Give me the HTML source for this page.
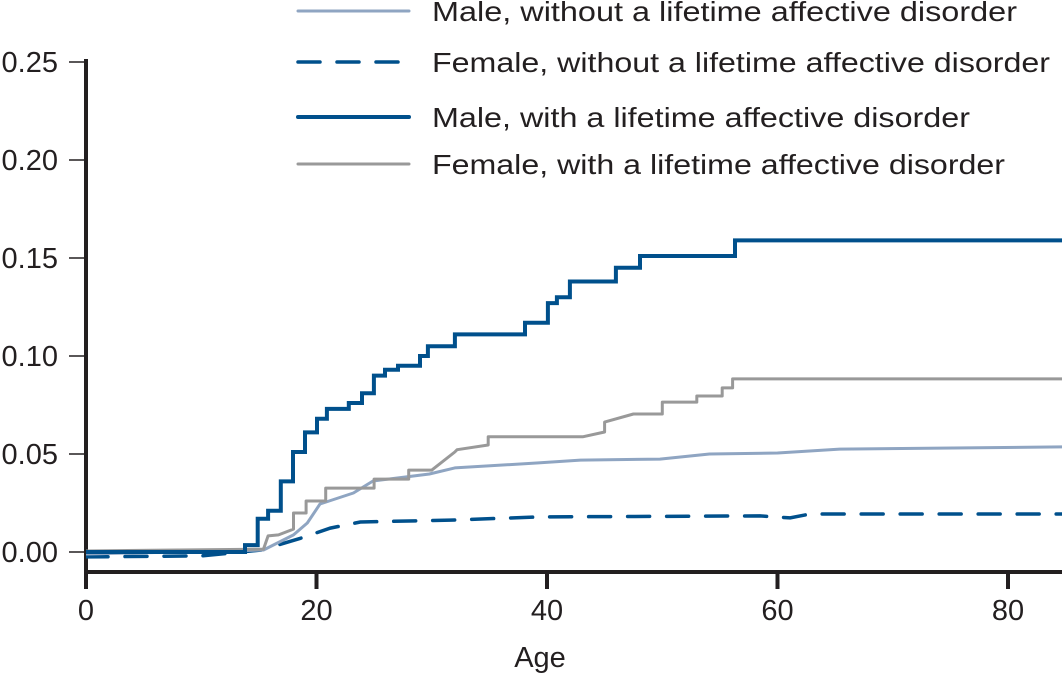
<!DOCTYPE html>
<html><head><meta charset="utf-8"><style>
html,body{margin:0;padding:0;background:#fff}
svg{display:block}
text{font-family:"Liberation Sans",sans-serif;fill:#231f20}
</style></head><body>
<svg id="chart" width="1062" height="676" viewBox="0 0 1062 676" xmlns="http://www.w3.org/2000/svg"></svg>
<script>
// ---- data ----
const xTicks = [0, 20, 40, 60, 80];
const yTicks = [0.00, 0.05, 0.10, 0.15, 0.20, 0.25];
const yTickLabels = ["0.00", "0.05", "0.10", "0.15", "0.20", "0.25"];
const legendLabels = ["Male, without a lifetime affective disorder","Female, without a lifetime affective disorder","Male, with a lifetime affective disorder","Female, with a lifetime affective disorder"];
// Male with disorder: step function (age of step, value after step)
const maleWithAges = [0, 13.8, 14.9, 15.8, 16.9, 17.962, 19.0, 20.04, 20.9, 22.8, 23.95, 24.98, 25.94, 27.07, 28.98, 29.67, 32.01, 38.09, 40.08, 40.86, 41.99, 45.98, 48.07, 56.31];
const maleWithVals = [0.0, 0.0035, 0.017, 0.021, 0.036, 0.051, 0.061, 0.068, 0.073, 0.076, 0.081, 0.090, 0.093, 0.095, 0.100, 0.105, 0.111, 0.117, 0.127, 0.130, 0.138, 0.145, 0.151, 0.159];
// Female with disorder: polyline points
const femWithAges = [0, 15.4, 15.8, 16.7, 18.0, 18.0, 19.1, 19.1, 20.8, 20.8, 25.0, 25.0, 28.0, 28.0, 30.0, 32.0, 32.2, 34.9, 34.9, 43.1, 45.0, 45.0, 47.5, 50.0, 50.0, 53.0, 53.0, 55.2, 55.2, 56.1, 56.1, 84.7];
const femWithVals = [0.0005, 0.0015, 0.0082, 0.0087, 0.0117, 0.0199, 0.0199, 0.0260, 0.0260, 0.0326, 0.0326, 0.0372, 0.0372, 0.0418, 0.0418, 0.0510, 0.0522, 0.0546, 0.0588, 0.0588, 0.0612, 0.0663, 0.0704, 0.0704, 0.0765, 0.0765, 0.0796, 0.0796, 0.0837, 0.0837, 0.0883, 0.0883];
// Male without disorder: smooth
const maleWithoutAges = [0, 15.4, 18.0, 19.2, 20.3, 23.2, 24.9, 27.8, 29.8, 32.0, 39.1, 42.9, 49.8, 54.1, 60.0, 65.4, 84.7];
const maleWithoutVals = [-0.001, 0.001, 0.0087, 0.0148, 0.0245, 0.0301, 0.0362, 0.0383, 0.0398, 0.0429, 0.0454, 0.0469, 0.0474, 0.0500, 0.0505, 0.0525, 0.0536];
// Female without disorder: dashed
const femWithoutAges = [0, 10.0, 15.2, 18.6, 21.2, 23.8, 31.6, 39.4, 58.5, 61.1, 62.8, 84.7];
const femWithoutVals = [-0.0025, -0.002, 0.001, 0.007, 0.0122, 0.0153, 0.0163, 0.0179, 0.0184, 0.0174, 0.0194, 0.0194];

// ---- scales ----
const X0 = 86, XPER = 11.525, Y0 = 552, YPER = 1960;
const xs = a => X0 + a * XPER;
const ys = v => Y0 - v * YPER;
const NS = "http://www.w3.org/2000/svg";
const svg = document.getElementById("chart");
function mk(tag, attrs, parent) {
  const e = document.createElementNS(NS, tag);
  for (const k in attrs) e.setAttribute(k, attrs[k]);
  (parent || svg).appendChild(e);
  return e;
}

// axes
const yAxis = mk("line", {x1: 86, y1: 59, x2: 86, y2: 574, stroke: "#231f20", "stroke-width": 4});


const xAxis = mk("line", {x1: 84, y1: 572, x2: 1062, y2: 572, stroke: "#231f20", "stroke-width": 4});



yTicks.forEach((v, i) => {
  const t = mk("line", {x1: 69, y1: ys(v), x2: 84, y2: ys(v), stroke: "#231f20", "stroke-width": 1.5});
  
  
  const l = mk("text", {x: 58, y: ys(v) + 10, "text-anchor": "end", "font-size": 29});
  l.textContent = yTickLabels[i];
  
  
});
xTicks.forEach(a => {
  const t = mk("line", {x1: xs(a), y1: 572, x2: xs(a), y2: 589, stroke: "#231f20", "stroke-width": 4});
  
  
  const l = mk("text", {x: xs(a), y: 620, "text-anchor": "middle", "font-size": 29});
  l.textContent = String(a);
  
  
});
const xt = mk("text", {x: 540, y: 667, "text-anchor": "middle", "font-size": 29});
xt.textContent = "Age";



function poly(ages, vals) {
  return ages.map((a, i) => (i ? "L" : "M") + xs(a).toFixed(1) + " " + ys(vals[i]).toFixed(1)).join(" ");
}
function stepPath(ages, vals, endAge) {
  let d = "M" + xs(ages[0]) + " " + ys(vals[0]);
  for (let i = 1; i < ages.length; i++) {
    d += " L" + xs(ages[i]).toFixed(1) + " " + ys(vals[i - 1]).toFixed(1);
    d += " L" + xs(ages[i]).toFixed(1) + " " + ys(vals[i]).toFixed(1);
  }
  d += " L" + xs(endAge).toFixed(1) + " " + ys(vals[vals.length - 1]).toFixed(1);
  return d;
}
const clip = mk("clipPath", {id: "plotclip"});
mk("rect", {x: 86, y: 0, width: 976, height: 570}, clip);
const g = mk("g", {"clip-path": "url(#plotclip)"});

const s4 = mk("path", {d: poly(femWithoutAges, femWithoutVals), fill: "none", stroke: "#00508c", "stroke-width": 3.5, "stroke-dasharray": "22 17", "stroke-linecap": "round"}, g);


const s3 = mk("path", {d: poly(maleWithoutAges, maleWithoutVals), fill: "none", stroke: "#8fa5c2", "stroke-width": 3, "stroke-linejoin": "round"}, g);


const s2 = mk("path", {d: poly(femWithAges, femWithVals), fill: "none", stroke: "#999999", "stroke-width": 3, "stroke-linejoin": "round"}, g);


const s1 = mk("path", {d: stepPath(maleWithAges, maleWithVals, 84.7), fill: "none", stroke: "#00508c", "stroke-width": 4}, g);



// legend
const legY = [11, 62, 117, 164];
const legStroke = ["#8fa5c2", "#00508c", "#00508c", "#999999"];
const legW = [3, 3.5, 4, 3];
const legDash = ["", "22 17", "", ""];
const legLen = [585, 618, 538, 573];
legendLabels.forEach((lab, i) => {
  const lg = mk("g", {});
  
  
  const ln = mk("line", {x1: 298, y1: legY[i], x2: 409, y2: legY[i], stroke: legStroke[i], "stroke-width": legW[i], "stroke-linecap": "round"}, lg);
  if (legDash[i]) ln.setAttribute("stroke-dasharray", legDash[i]);
  
  
  const t = mk("text", {x: 432, y: legY[i] + 10, "font-size": 28, textLength: legLen[i], lengthAdjust: "spacingAndGlyphs"}, lg);
  t.textContent = lab;
  
  
});
</script>
</body></html>
